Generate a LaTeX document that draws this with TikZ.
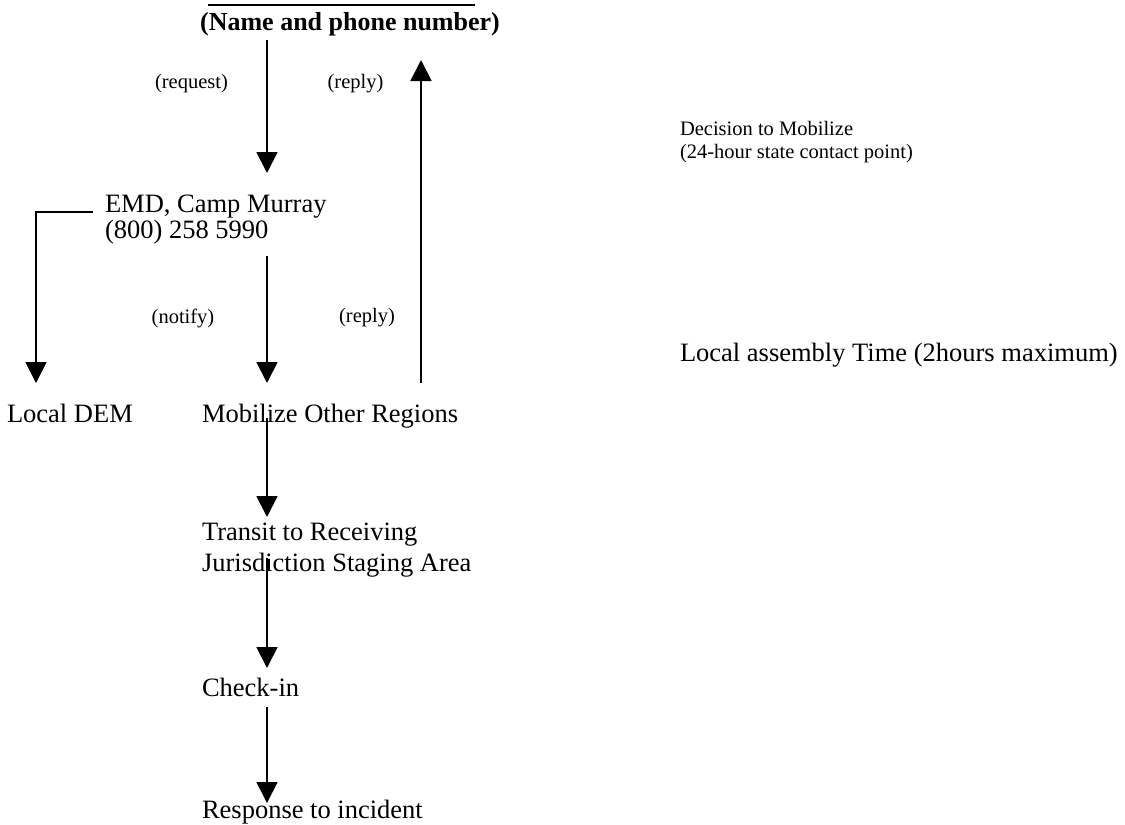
\documentclass[tikz,border=0pt]{standalone}
\usepackage{fontspec}
\setmainfont{Liberation Serif}
\usetikzlibrary{arrows.meta}
\begin{document}
\begin{tikzpicture}[x=1pt,y=-1pt,
  lbl/.style={inner sep=0pt,outer sep=0pt,align=left,font=\fontsize{26.5}{30.5}\selectfont},
  sml/.style={inner sep=0pt,outer sep=0pt,align=left,font=\fontsize{20.5}{23}\selectfont},
  ttl/.style={inner sep=0pt,outer sep=0pt,font=\bfseries\fontsize{26}{30}\selectfont},
  conn/.style={line width=1.8pt},
  arr/.style={conn,-{Triangle[width=21pt,length=21pt]}}]
\useasboundingbox (0,0) rectangle (1125,825);
% texts
\node[ttl] (title) at (350,24) {(Name and phone number)};
\node[sml] (req) at (191.5,84) {(request)};
\node[sml] (rep1) at (355.5,84) {(reply)};
\node[sml,anchor=west] (dec) at (680,142) {Decision to Mobilize\\(24-hour state contact point)};
\node[lbl,anchor=west,font=\fontsize{26.5}{26}\selectfont] (emd) at (105,220) {EMD, Camp Murray\\(800) 258 5990};
\node[sml] (not) at (183,318) {(notify)};
\node[sml] (rep2) at (367,318) {(reply)};
\node[lbl,anchor=west] (lat) at (680,355) {Local assembly Time (2hours maximum)};
\node[lbl,anchor=base west] (dem) at (7,422) {Local DEM};
\node[lbl,anchor=base west] (mob) at (202,422) {Mobilize Other Regions};
\node[lbl,anchor=west] (tra) at (202,550) {Transit to Receiving\\Jurisdiction Staging Area};
\node[lbl,anchor=west] (chk) at (202,687) {Check-in};
\node[lbl,anchor=west] (res) at (202,812) {Response to incident};
% coordinates
\coordinate (tl1) at (208,5);
\coordinate (tl2) at (475,5);
\coordinate (a1s) at (267,40);
\coordinate (a1e) at (267,173);
\coordinate (a2s) at (421,383);
\coordinate (a2e) at (421,60);
\coordinate (h1) at (93,212);
\coordinate (h2) at (36,212);
\coordinate (h3) at (36,383);
\coordinate (a3s) at (267,256);
\coordinate (a3e) at (267,383);
\coordinate (a4s) at (267,418);
\coordinate (a4e) at (267,517);
\coordinate (a5s) at (267,558);
\coordinate (a5e) at (267,668);
\coordinate (a6s) at (267,707);
\coordinate (a6e) at (267,803);
% connectors
\draw[conn] (tl1) -- (tl2);
\draw[arr] (a1s) -- (a1e);
\draw[arr] (a2s) -- (a2e);
\draw[arr] (h1) -- (h2) -- (h3);
\draw[arr] (a3s) -- (a3e);
\draw[arr] (a4s) -- (a4e);
\draw[arr] (a5s) -- (a5e);
\draw[arr] (a6s) -- (a6e);
\end{tikzpicture}
\end{document}
